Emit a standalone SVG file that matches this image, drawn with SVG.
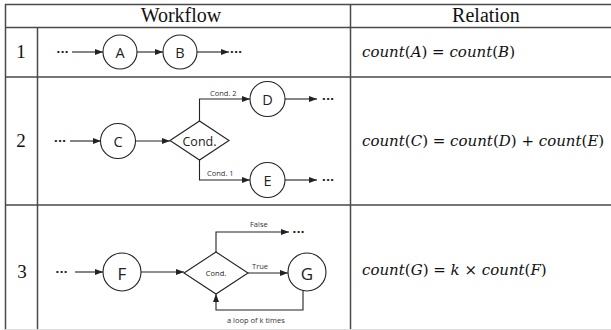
<svg xmlns="http://www.w3.org/2000/svg" width="611" height="330" viewBox="0 0 611 330">
  <style>
    .grid { stroke: #4a4a4a; stroke-width: 1.5; fill: none; }
    .head { font-family: "Liberation Serif", "Times New Roman", serif; font-size: 20px; fill: #111; text-anchor: middle; }
    .num { font-family: "Liberation Serif", "Times New Roman", serif; font-size: 19px; fill: #111; text-anchor: middle; }
    .math { font-family: "DejaVu Serif", "Liberation Serif", serif; font-size: 15px; fill: #111; }
    .math .i { font-style: italic; }
    .node { fill: #fff; stroke: #222; stroke-width: 1.1; }
    .lbl { font-family: "Open Sans", "DejaVu Sans", sans-serif; fill: #222; text-anchor: middle; dominant-baseline: central; }
    .big { font-size: 14.5px; }
    .small { font-family: "Open Sans", "DejaVu Sans", sans-serif; font-size: 7.5px; fill: #333; }
    .dots { font-family: "DejaVu Sans", sans-serif; font-size: 11px; font-weight: bold; fill: #222; text-anchor: middle; dominant-baseline: central; }
    .edge { stroke: #222; stroke-width: 1.1; fill: none; marker-end: url(#arrow); }
  </style>
  <defs>
    <marker id="arrow" markerUnits="userSpaceOnUse" markerWidth="9" markerHeight="7" refX="8" refY="3" orient="auto">
      <path d="M0,0 L8,3 L0,6 z" fill="#222"/>
    </marker>
  </defs>

  <rect width="611" height="330" fill="#fff"/>

  <!-- table grid -->
  <g id="table">
    <path class="grid" d="M5,4.5 H611 M5,27.5 H611 M37.5,77 H611 M37.5,205 H611 M5,77 H37.5 M5,205 H37.5"/>
    <path class="grid" d="M5.5,4 V330 M37.5,27.5 V330 M350.5,4 V330"/>
    <path d="M5,329.5 H611" stroke="#ddd" stroke-width="1"/>
    <text class="head" x="181" y="22">Workflow</text>
    <text class="head" x="486" y="22">Relation</text>
    <text class="num" x="21" y="58">1</text>
    <text class="num" x="21" y="147">2</text>
    <text class="num" x="22" y="278">3</text>
  </g>

  <!-- relations -->
  <g id="relations">
    <text class="math" x="362" y="57"><tspan class="i">count</tspan>(<tspan class="i">A</tspan>) = <tspan class="i">count</tspan>(<tspan class="i">B</tspan>)</text>
    <text class="math" x="362" y="146"><tspan class="i">count</tspan>(<tspan class="i">C</tspan>) = <tspan class="i">count</tspan>(<tspan class="i">D</tspan>) + <tspan class="i">count</tspan>(<tspan class="i">E</tspan>)</text>
    <text class="math" x="362" y="275"><tspan class="i">count</tspan>(<tspan class="i">G</tspan>) = <tspan class="i">k</tspan> × <tspan class="i">count</tspan>(<tspan class="i">F</tspan>)</text>
  </g>

  <!-- connectors -->
  <g id="connectors">
    <!-- row 1 -->
    <text class="dots" x="62.5" y="52">···</text>
    <path class="edge" d="M72,52 H103"/>
    <path class="edge" d="M137,52 H163"/>
    <path class="edge" d="M197,52 H229"/>
    <text class="dots" x="236" y="52">···</text>
    <!-- row 2 -->
    <text class="dots" x="60" y="141">···</text>
    <path class="edge" d="M70,141 H101"/>
    <path class="edge" d="M135,141 H170"/>
    <path class="edge" d="M199.5,121 V99 H250"/>
    <path class="edge" d="M199.5,160 V180 H250"/>
    <path class="edge" d="M285,99 H317"/>
    <path class="edge" d="M285,180 H317"/>
    <text class="dots" x="328" y="99">···</text>
    <text class="dots" x="328" y="180">···</text>
    <text class="small" x="210" y="96">Cond. 2</text>
    <text class="small" x="207" y="176">Cond. 1</text>
    <!-- row 3 -->
    <text class="dots" x="61.5" y="272">···</text>
    <path class="edge" d="M75,272 H103"/>
    <path class="edge" d="M141,272 H184"/>
    <path class="edge" d="M248,273 H288"/>
    <path class="edge" d="M216,252 V232 H289"/>
    <text class="dots" x="298.5" y="232">···</text>
    <path class="edge" d="M303,291 V310 H216 V294"/>
    <text class="small" x="250" y="227">False</text>
    <text class="small" x="252" y="269" font-size="8.5">True</text>
    <text class="small" x="227" y="323" font-size="8.3">a loop of k times</text>
  </g>

  <!-- nodes -->
  <g id="node-A"><circle class="node" cx="120" cy="52" r="17"/><text class="lbl big" x="120" y="52">A</text></g>
  <g id="node-B"><circle class="node" cx="180" cy="52" r="17"/><text class="lbl big" x="180" y="52">B</text></g>
  <g id="node-C"><circle class="node" cx="118" cy="141" r="17.5"/><text class="lbl big" x="118" y="141">C</text></g>
  <g id="node-cond2"><path class="node" d="M170,140.5 L199.5,121 L229,140.5 L199.5,160 Z"/><text class="lbl" x="199.5" y="141" font-size="12.5">Cond.</text></g>
  <g id="node-D"><circle class="node" cx="267.5" cy="99" r="17.5"/><text class="lbl big" x="267.5" y="99">D</text></g>
  <g id="node-E"><circle class="node" cx="267.5" cy="180" r="17.5"/><text class="lbl big" x="267.5" y="180">E</text></g>
  <g id="node-F"><circle class="node" cx="122" cy="272" r="19"/><text class="lbl" x="122" y="273" font-size="17">F</text></g>
  <g id="node-cond3"><path class="node" d="M184,273 L216,252 L248,273 L216,294 Z"/><text class="lbl" x="216" y="273" font-size="7.5">Cond.</text></g>
  <g id="node-G"><circle class="node" cx="307" cy="272" r="19"/><text class="lbl" x="307" y="273" font-size="17">G</text></g>
</svg>
